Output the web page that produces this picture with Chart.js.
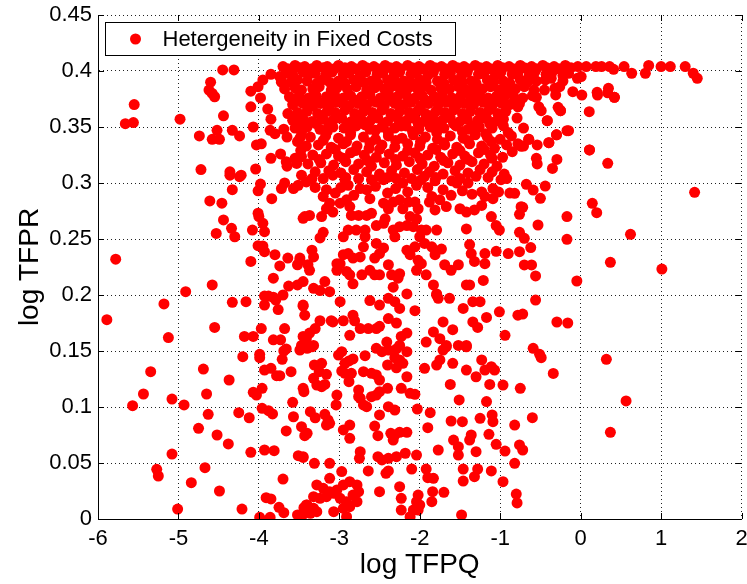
<!DOCTYPE html>
<html>
<head>
<meta charset="utf-8">
<script src="https://cdn.jsdelivr.net/npm/chart.js@4/dist/chart.umd.min.js"></script>
<style>
  html, body { margin: 0; padding: 0; background: #fff; }
  #wrap { width: 747px; height: 584px; }
</style>
</head>
<body>
<div id="wrap"><canvas id="c" width="747" height="584"></canvas></div>
<script>
// --- data: [log TFPQ, log TFPR] ---
const seriesLabel = "Hetergeneity in Fixed Costs";
const xTickLabels = ["-6", "-5", "-4", "-3", "-2", "-1", "0", "1", "2"];
const yTickLabels = ["0", "0.05", "0.1", "0.15", "0.2", "0.25", "0.3", "0.35", "0.4", "0.45"];

// dense cap near 0.4
const topBand = [
  [-3.70,.404],[-3.64,.402],[-3.55,.405],[-3.49,.403],[-3.43,.404],[-3.34,.402],[-3.28,.405],[-3.20,.403],[-3.15,.404],[-3.06,.402],
  [-3.01,.405],[-2.93,.403],[-2.85,.404],[-2.80,.402],[-2.71,.405],[-2.66,.403],[-2.57,.404],[-2.52,.402],[-2.43,.405],[-2.37,.403],
  [-2.29,.404],[-2.24,.402],[-2.15,.405],[-2.09,.403],[-2.01,.404],[-1.96,.402],[-1.87,.405],[-1.81,.403],[-1.73,.404],[-1.68,.402],
  [-1.59,.405],[-1.53,.403],[-1.45,.404],[-1.40,.402],[-1.31,.405],[-1.25,.403],[-1.17,.404],[-1.12,.402],[-1.03,.405],[-0.97,.403],
  [-0.89,.404],[-0.84,.402],[-0.75,.405],[-0.70,.403],[-0.61,.404],[-0.55,.402],[-0.47,.405],[-0.42,.403],[-0.33,.404],[-0.27,.402],
  [-0.19,.405],[-0.12,.403],[-0.035,.404],[0.07,.404],[0.19,.404],[0.26,.404],[0.36,.404],[0.54,.404],[0.846,.405],[1.00,.404],
  [1.115,.404],[1.30,.404],
  [-3.66,.398],[-3.58,.397],[-3.45,.399],[-3.38,.397],[-3.30,.398],[-3.17,.396],[-3.09,.399],[-2.95,.397],[-2.88,.398],[-2.74,.396],
  [-2.67,.399],[-2.53,.397],[-2.46,.398],[-2.32,.396],[-2.25,.399],[-2.11,.397],[-2.04,.398],[-1.90,.396],[-1.83,.399],[-1.69,.397],
  [-1.62,.398],[-1.48,.396],[-1.41,.399],[-1.27,.397],[-1.20,.398],[-1.06,.396],[-0.99,.399],[-0.85,.397],[-0.78,.398],[-0.64,.396],
  [-0.57,.399],[-0.43,.397],[-0.36,.398],[-0.22,.396],[-0.15,.398],[0.41,.4015],[0.635,.398],[0.805,.398],[1.40,.398],[1.45,.3935],
  [-0.04,.3935],[0.007,.395],
  [-3.72,.391],[-3.60,.390],[-3.52,.392],[-3.40,.391],[-3.28,.389],[-3.21,.392],[-3.12,.390],[-3.01,.391],[-2.93,.389],[-2.82,.392],
  [-2.70,.390],[-2.60,.391],[-2.52,.389],[-2.40,.392],[-2.30,.390],[-2.20,.391],[-2.10,.389],[-2.00,.392],[-1.92,.390],[-1.78,.391],
  [-1.70,.389],[-1.58,.392],[-1.47,.390],[-1.36,.391],[-1.30,.389],[-1.16,.392],[-1.08,.390],[-0.96,.391],[-0.88,.389],[-0.75,.392],
  [-0.66,.390],[-0.55,.391],[-0.44,.392],[-0.365,.3935],[-0.22,.391],
  [-3.68,.384],[-3.55,.385],[-3.47,.383],[-3.33,.384],[-3.25,.386],[-3.10,.383],[-3.03,.385],[-2.90,.384],[-2.79,.386],[-2.66,.383],
  [-2.56,.385],[-2.44,.384],[-2.35,.386],[-2.24,.383],[-2.14,.385],[-2.03,.384],[-1.95,.386],[-1.86,.383],[-1.74,.385],[-1.63,.384],
  [-1.52,.386],[-1.42,.383],[-1.33,.385],[-1.22,.384],[-1.12,.386],[-1.01,.383],[-0.92,.385],[-0.81,.384],[-0.70,.386],[-0.58,.383],
  [-0.45,.383],[-0.32,.3845],[-0.26,.386],[0.346,.3845],[0.337,.3805],[-0.097,.3815],[0.015,.3785],[0.205,.381],[0.21,.3785],[0.42,.3765],
  [-3.62,.377],[-3.50,.378],[-3.38,.376],[-3.29,.378],[-3.16,.377],[-3.06,.379],[-2.95,.376],[-2.86,.378],[-2.72,.377],[-2.62,.379],
  [-2.49,.376],[-2.38,.378],[-2.28,.377],[-2.17,.379],[-2.06,.376],[-1.97,.378],[-1.82,.377],[-1.72,.379],[-1.60,.376],[-1.49,.378],
  [-1.37,.377],[-1.26,.379],[-1.15,.376],[-1.04,.378],[-0.95,.377],[-0.84,.379],[-0.72,.376],[-0.60,.378],[-0.55,.3765],[-0.31,.3786],
  [-3.52,.373],[-3.28,.374],[-3.05,.372],[-2.81,.374],[-2.58,.373],[-2.37,.374],[-2.14,.372],[-1.93,.374],[-1.71,.373],[-1.49,.372],
  [-1.27,.374],[-1.05,.373],[-0.82,.374],
  [-3.58,.370],[-3.45,.371],[-3.33,.369],[-3.23,.371],[-3.12,.370],[-2.99,.372],[-2.88,.369],[-2.77,.371],[-2.66,.370],[-2.53,.372],
  [-2.44,.369],[-2.31,.371],[-2.20,.370],[-2.11,.372],[-1.99,.369],[-1.89,.371],[-1.77,.370],[-1.66,.372],[-1.55,.369],[-1.44,.371],
  [-1.33,.370],[-1.21,.372],[-1.10,.369],[-0.98,.371],[-0.88,.370],[-0.76,.371],[-0.78,.368],[-0.52,.368],[-0.49,.3646],[-0.28,.3676],
  [-0.25,.3646],
  [-3.52,.363],[-3.40,.364],[-3.27,.362],[-3.15,.364],[-3.05,.363],[-2.93,.365],[-2.81,.362],[-2.70,.364],[-2.59,.363],[-2.47,.365],
  [-2.36,.362],[-2.25,.364],[-2.13,.363],[-2.02,.365],[-1.93,.362],[-1.80,.364],[-1.69,.363],[-1.58,.365],[-1.47,.362],[-1.37,.364],
  [-1.25,.363],[-1.14,.365],[-1.03,.362],[-0.93,.364],[0.107,.3637],
  [-3.50,.359],[-3.22,.360],[-3.00,.358],[-2.76,.360],[-2.55,.359],[-2.31,.360],[-2.08,.358],[-1.87,.360],[-1.64,.359],[-1.43,.360],
  [-1.20,.358],[-0.99,.360],
  [-3.58,.356],[-3.45,.357],[-3.34,.355],[-3.20,.357],[-3.08,.356],[-2.97,.358],[-2.85,.355],[-2.73,.357],[-2.61,.356],[-2.52,.358],
  [-2.40,.355],[-2.27,.357],[-2.16,.356],[-2.06,.358],[-1.95,.355],[-1.83,.357],[-1.72,.356],[-1.62,.358],[-1.50,.355],[-1.41,.357],
  [-1.28,.356],[-1.17,.358],[-1.06,.355],[-0.96,.357],[-0.79,.358],[-0.415,.3556],
  [-3.50,.352],[-3.29,.353],[-3.13,.351],[-2.90,.353],[-2.68,.352],[-2.45,.353],[-2.23,.351],[-2.02,.353],[-1.78,.352],[-1.58,.353],
  [-1.34,.351],[-1.13,.353]
];

// between 0.28 and 0.35, plus the sparse upper left
const upperCloud = [
  [-3.55,.349],[-3.40,.350],[-3.24,.348],[-3.08,.350],[-2.94,.349],[-2.79,.351],[-2.62,.348],[-2.47,.350],[-2.31,.349],[-2.17,.351],
  [-2.01,.348],[-1.87,.350],[-1.70,.349],[-1.55,.351],[-1.40,.348],[-1.26,.350],[-1.10,.349],[-0.96,.351],[-0.71,.349],[-0.15,.3467],
  [-3.47,.345],[-3.15,.346],[-2.86,.345],[-2.55,.347],[-2.39,.345],[-2.09,.346],[-1.79,.345],[-1.47,.346],[-1.18,.344],[-0.90,.345],
  [-3.36,.341],[-3.17,.342],[-3.01,.340],[-2.86,.343],[-2.70,.341],[-2.55,.339],[-2.39,.342],[-2.22,.340],[-2.08,.343],[-1.93,.341],
  [-1.78,.339],[-1.62,.342],[-1.46,.340],[-1.31,.343],[-1.16,.341],[-1.00,.339],[-0.86,.342],[-0.645,.339],[-0.30,.343],
  [-3.52,.337],[-3.20,.338],[-2.91,.337],[-2.62,.336],[-2.30,.338],[-1.99,.337],[-1.70,.336],[-1.40,.338],[-1.11,.337],
  [-3.41,.333],[-3.26,.334],[-3.10,.332],[-2.95,.335],[-2.78,.333],[-2.63,.331],[-2.47,.334],[-2.31,.332],[-2.15,.335],[-2.00,.333],
  [-1.84,.331],[-1.69,.334],[-1.54,.332],[-1.38,.335],[-1.23,.333],[-1.07,.331],[-0.92,.334],[-0.74,.333],[-0.78,.335],[-0.54,.334],
  [-0.395,.336],
  [-3.48,.329],[-3.05,.330],[-2.80,.329],[-2.50,.330],[-2.15,.329],[-1.80,.330],[-1.50,.329],[-1.20,.330],[-0.85,.328],
  [-3.33,.325],[-3.16,.326],[-3.01,.324],[-2.86,.327],[-2.69,.325],[-2.54,.323],[-2.38,.326],[-2.21,.324],[-2.06,.327],[-1.90,.325],
  [-1.74,.323],[-1.59,.326],[-1.44,.324],[-1.27,.327],[-1.12,.325],[-0.97,.323],[-0.295,.321],[0.11,.3295],
  [-3.25,.321],[-2.95,.322],[-2.65,.320],[-2.30,.321],[-2.00,.322],[-1.70,.320],[-1.40,.321],[-1.10,.322],
  [-3.39,.317],[-3.23,.318],[-3.07,.316],[-2.92,.319],[-2.76,.317],[-2.60,.315],[-2.44,.318],[-2.29,.316],[-2.13,.319],[-1.97,.317],
  [-1.82,.315],[-1.65,.318],[-1.50,.316],[-1.35,.319],[-1.20,.317],[-1.04,.315],[-0.55,.322],[-0.54,.317],[-0.35,.313],[0.337,.3176],
  [-3.30,.310],[-3.13,.311],[-2.98,.309],[-2.82,.312],[-2.66,.310],[-2.50,.308],[-2.35,.311],[-2.19,.309],[-2.03,.312],[-1.88,.310],
  [-1.71,.308],[-1.56,.311],[-1.40,.309],[-1.25,.312],[-1.10,.310],[-0.95,.308],
  [-3.20,.304],[-2.92,.305],[-2.60,.303],[-2.40,.305],[-2.10,.304],[-1.80,.305],[-1.50,.304],[-1.15,.305],
  [-3.30,.296],[-3.05,.291],[-2.82,.289],[-2.55,.297],[-2.40,.291],[-2.15,.292],[-1.90,.296],[-1.85,.288],[-1.47,.293],[-1.35,.290],
  [-1.02,.292],[-2.98,.296],[-2.62,.286],[-2.30,.295],[-1.60,.302],
  [-4.45,.401],[-4.31,.401],[-4.60,.390],[-4.62,.383],[-4.58,.380],[-4.55,.377],[-5.55,.370],[-5.66,.353],[-5.56,.354],[-4.98,.357],
  [-4.44,.360],[-4.74,.342],[-4.58,.339],[-4.49,.339],[-4.52,.347],[-4.33,.347],[-4.24,.342],[-4.72,.312],[-4.36,.310],[-4.22,.307],
  [-4.04,.3125],[-4.10,.382],[-4.01,.386],[-3.95,.392],[-3.85,.397],[-3.74,.395],[-3.72,.390],[-3.98,.376],[-4.10,.368],[-3.89,.366],
  [-3.85,.357],[-4.07,.350],[-3.86,.347],[-3.80,.344],[-3.69,.348],[-3.65,.341],[-4.03,.334],[-3.97,.335],[-3.85,.322],[-3.73,.326],
  [-3.66,.319],[-3.65,.315],[-3.55,.322],[-3.47,.3235],[-3.53,.3175],[-3.47,.307],[-3.49,.340],[-3.64,.362],
  [-0.30,.343],[-0.395,.336],[-0.74,.333],[-0.71,.333],[-0.645,.339],[-0.415,.3556],[-0.17,.3467],[-0.25,.3646],[0.42,.3765],[0.11,.3295]
];

// between 0.15 and 0.30
const middleCloud = [
  [-3.41,.301],[-3.34,.304],[-3.16,.294],[-3.20,.288],[-3.08,.307],[-2.93,.303],[-2.89,.298],[-2.76,.304],[-2.74,.295],[-2.66,.294],
  [-2.50,.306],[-2.45,.303],[-2.35,.306],[-2.29,.304],[-2.21,.300],[-2.04,.298],[-1.98,.303],[-1.94,.306],[-1.81,.302],[-1.71,.294],
  [-1.61,.289],[-1.54,.300],[-1.40,.300],[-1.30,.306],[-1.23,.292],[-1.19,.288],[-1.09,.295],[-0.99,.303],[-0.92,.304],[-0.88,.291],
  [-3.12,.282],[-3.16,.277],[-3.08,.274],[-3.22,.270],[-3.43,.270],[-3.37,.271],[-2.99,.282],[-2.91,.285],[-2.87,.279],[-2.85,.271],
  [-2.76,.271],[-2.66,.271],[-2.60,.273],[-2.45,.282],[-2.39,.277],[-2.43,.268],[-2.33,.283],[-2.25,.285],[-2.21,.277],[-2.14,.283],
  [-2.06,.283],[-2.02,.277],[-2.12,.270],[-2.04,.268],[-1.88,.283],[-1.75,.285],[-1.81,.276],[-1.67,.279],[-1.50,.277],[-1.42,.274],
  [-1.32,.276],[-1.23,.280],[-1.09,.286],[-1.11,.270],
  [-3.20,.256],[-3.24,.251],[-2.95,.252],[-2.89,.258],[-2.79,.258],[-2.68,.258],[-2.68,.252],[-2.54,.262],[-2.45,.264],[-2.33,.258],
  [-2.31,.252],[-2.25,.261],[-2.16,.262],[-2.08,.261],[-1.98,.258],[-1.92,.258],[-1.79,.258],[-2.00,.252],[-1.42,.259],[-1.05,.262],
  [-1.01,.258],[-0.90,.237],
  [-3.34,.240],[-3.32,.234],[-3.39,.227],[-3.49,.231],[-2.95,.236],[-2.89,.237],[-2.83,.233],[-2.74,.234],[-2.70,.243],[-2.54,.246],
  [-2.56,.233],[-2.45,.242],[-2.50,.237],[-2.16,.240],[-2.12,.236],[-2.06,.243],[-1.94,.246],[-1.85,.243],[-1.81,.236],[-1.73,.241],
  [-2.02,.231],[-1.98,.228],[-1.38,.245],[-1.36,.237],[-1.32,.230],[-1.19,.237],[-1.19,.228],[-1.05,.239],[-3.03,.228],[-2.99,.228],
  [-1.52,.227],[-1.69,.227],
  [-3.37,.222],[-3.45,.212],[-3.32,.206],[-3.18,.212],[-2.91,.221],[-2.87,.218],[-2.83,.210],[-2.72,.218],[-2.62,.222],[-2.56,.218],
  [-2.50,.218],[-2.39,.227],[-2.35,.218],[-2.25,.219],[-2.27,.215],[-2.33,.207],[-2.16,.201],[-2.04,.222],[-1.92,.218],[-1.83,.209],
  [-1.79,.201],[-1.61,.222],[-1.42,.209],[-1.38,.209],[-1.21,.213],[-3.12,.203],[-3.24,.204],[-3.03,.222],
  [-3.45,.191],[-3.24,.177],[-3.10,.177],[-2.99,.194],[-2.83,.182],[-2.81,.177],[-2.62,.195],[-2.50,.191],[-2.39,.197],[-2.31,.194],
  [-2.25,.188],[-2.06,.186],[-1.79,.200],[-1.77,.197],[-1.63,.197],[-1.46,.188],[-1.34,.194],[-1.25,.194],[-1.01,.185],[-1.17,.180],
  [-1.34,.176],[-1.28,.171],
  [-3.45,.163],[-3.37,.166],[-3.30,.170],[-3.32,.155],[-3.08,.176],[-2.95,.177],[-2.87,.164],[-2.74,.170],[-2.64,.170],[-2.54,.170],
  [-2.50,.172],[-2.39,.179],[-2.29,.175],[-2.23,.163],[-2.16,.166],[-2.41,.158],[-2.25,.155],[-1.92,.158],[-1.83,.167],[-1.75,.161],
  [-1.71,.176],[-1.59,.169],[-1.67,.155],[-1.52,.155],[-1.42,.155],[-0.94,.164],[-0.78,.182],
  [-5.89,.178],[-5.78,.232],[-5.18,.192],[-5.125,.162],[-4.91,.203],[-4.61,.284],[-4.46,.282],[-4.33,.294],[-4.44,.267],[-4.53,.255],
  [-4.34,.2595],[-4.30,.252],[-4.58,.209],[-4.33,.1935],[-4.16,.194],[-4.55,.171],[-4.18,.163],[-4.07,.163],[-4.10,.230],[-4.01,.293],
  [-3.98,.299],[-4.01,.273],[-4.00,.270],[-3.95,.264],[-3.93,.2565],[-4.08,.258],[-3.84,.286],[-4.01,.244],[-3.95,.2437],[-3.93,.2387],
  [-3.80,.236],[-3.74,.226],[-3.82,.215],[-3.64,.233],[-3.63,.208],[-3.52,.209],[-3.49,.233],[-3.52,.227],[-3.93,.199],[-3.88,.199],
  [-3.82,.198],[-3.79,.1955],[-3.70,.200],[-3.93,.191],[-3.76,.187],[-3.68,.170],[-3.97,.170],[-3.82,.160],[-3.73,.160],[-3.72,.295],
  [-3.68,.300],[-3.57,.295],[-3.51,.298],[-3.45,.2685],[-3.45,.190],[-3.43,.182],[-3.41,.161],[-3.47,.155],[-4.36,.307],[-4.24,.3056],
  [-0.675,.2988],[-0.59,.2937],[-0.44,.2973],[-0.50,.2863],[-0.74,.2788],[-0.72,.2783],[-0.76,.272],[-0.82,.2908],[-0.53,.2625],[-0.76,.256],
  [-0.70,.2506],[-0.17,.270],[-0.17,.2497],[0.145,.2819],[0.20,.2735],[0.62,.2542],[1.417,.2917],[-0.76,.2387],[-0.62,.2423],[-0.70,.2268],
  [-0.61,.2268],[-0.56,.217],[-0.047,.2125],[0.37,.2292],[1.01,.2232],[-0.56,.1955],[-0.72,.183],[-0.295,.1759],[-0.16,.175],[-0.59,.1524]
];

// below 0.15
const lowerCloud = [
  [-0.51,.147],[-0.49,.144],[-0.34,.130],[0.32,.1426],[-0.75,.1167],[0.565,.1054],[-0.60,.0905],[-0.82,.0839],[0.37,.0774],[-0.76,.0661],
  [-0.72,.0616],[-0.80,.0223],[-0.79,.0143],[-0.82,.0497],
  [-5.345,.1315],[-5.435,.1116],[-5.57,.1012],[-5.08,.1071],[-4.93,.1018],[-4.69,.1339],[-4.65,.1116],[-4.37,.1241],[-4.63,.0935],[-4.75,.081],
  [-4.52,.075],[-4.38,.067],[-5.08,.058],[-5.27,.0444],[-5.25,.0384],[-4.84,.0324],[-4.49,.025],[-4.67,.0458],[-5.01,.0089],[-4.20,.1449],
  [-4.25,.0949],[-4.12,.0904],[-4.10,.0595],[-4.21,.0089],[-3.99,.147],[-3.99,.144],[-3.93,.133],[-3.85,.1345],[-3.78,.128],[-3.74,.128],
  [-3.60,.1315],[-3.69,.150],[-3.66,.1518],[-3.71,.1426],[-3.49,.1509],[-3.96,.1167],[-4.07,.1131],[-4.03,.1107],[-3.96,.0988],[-3.88,.0967],
  [-3.83,.0938],[-3.45,.1167],[-3.44,.1137],[-3.58,.1042],[-3.57,.0913],[-3.66,.0786],[-3.47,.0824],[-3.43,.0744],[-3.93,.0616],[-3.81,.061],
  [-3.51,.0565],[-3.45,.055],[-3.70,.0357],[-3.91,.019],[-3.85,.0179],[-3.75,.0104],[-3.69,.0056],[-3.99,.0015],[-3.86,.0015],[-3.52,.0036],
  [-3.47,.002],[-3.44,.0101],[-3.41,.0125],
  [-3.40,.1524],[-3.34,.1538],[-2.97,.1494],[-3.01,.1464],[-2.68,.1458],[-2.88,.1411],[-2.83,.1429],[-2.93,.139],
  [-2.54,.1524],[-2.47,.1494],[-2.39,.1509],[-2.29,.1518],[-2.16,.1494],[-2.31,.144],[-2.25,.142],[-2.40,.1375],[-2.29,.135],[-2.21,.139],
  [-2.16,.127],[-3.31,.1375],[-3.22,.139],[-3.25,.1315],[-3.16,.1292],[-3.32,.1256],[-3.28,.1196],[-3.22,.1181],[-3.18,.1202],
  [-2.97,.1321],[-2.93,.1301],[-2.85,.1301],[-2.70,.1315],[-2.60,.1301],[-2.54,.1286],[-2.50,.1241],[-2.88,.1226],
  [-3.03,.1107],[-2.76,.1152],[-2.74,.1078],[-2.70,.1018],[-2.66,.1003],[-2.76,.1092],[-2.60,.1092],[-2.54,.1107],[-2.50,.1137],[-2.40,.1167],
  [-2.23,.1167],[-2.12,.1122],[-2.06,.1113],[-3.04,.1018],
  [-3.36,.0958],[-3.30,.0904],[-3.18,.0935],[-3.14,.0884],[-3.16,.0839],[-3.12,.0854],[-3.40,.0765],
  [-2.95,.0795],[-2.87,.0839],[-2.87,.072],[-2.50,.0929],[-2.56,.083],[-2.52,.0744],[-2.39,.1003],[-2.31,.0973],
  [-2.36,.0765],[-2.31,.075],[-2.25,.0774],[-2.16,.0774],[-2.33,.0705],[-2.03,.0982],[-1.87,.0949],[-1.90,.0815],
  [-1.94,.1345],[-1.79,.1375],[-1.75,.142],[-1.71,.1509],[-1.67,.1538],[-1.59,.139],[-1.42,.1538],[-1.62,.1202],
  [-1.42,.133],[-1.30,.127],[-1.23,.142],[-1.19,.133],[-1.11,.136],[-1.07,.133],[-1.13,.1202],[-0.965,.1196],
  [-1.51,.1063],[-1.17,.1048],[-1.61,.0875],[-1.47,.0869],[-1.25,.0899],[-1.10,.0929],[-1.09,.0869],
  [-1.58,.0705],[-1.52,.0646],[-1.52,.0571],[-1.38,.0705],[-1.36,.075],[-1.30,.0601],[-1.14,.0756],[-1.05,.0667],[-0.94,.0607],
  [-1.77,.0616],[-1.92,.0446],[-1.90,.0369],[-1.83,.0363],
  [-1.46,.0446],[-1.46,.0339],[-1.32,.0378],[-1.28,.0446],[-1.11,.0429],[-0.965,.0333],
  [-1.84,.0244],[-1.70,.0238],[-1.85,.0155],[-2.02,.0214],[-2.04,.0155],[-2.02,.008],[-2.25,.0289],[-2.23,.0185],[-2.23,.008],[-2.12,.002],
  [-2.08,.008],[-2.00,.0125],[-1.48,.0036],[-2.50,.0244],[-2.42,.0408],[-2.39,.0429],[-2.10,.0446],
  [-3.28,.0304],[-3.20,.0274],[-3.12,.0244],[-3.03,.0259],[-2.95,.0304],[-2.87,.0333],[-2.78,.0304],[-3.32,.0199],[-3.24,.0185],[-3.16,.0199],
  [-3.07,.023],[-2.99,.0185],[-2.91,.0155],[-2.83,.0214],[-2.76,.0244],[-3.40,.0125],[-3.32,.0095],[-3.45,.0051],[-3.36,.0051],[-3.28,.0065],
  [-3.07,.0065],[-2.95,.0095],[-2.87,.011],[-2.78,.0155],[-2.91,.002],[-3.12,.0363],[-2.97,.0423],[-2.64,.0429],
  [-3.31,.0497],[-3.12,.0497],[-3.45,.0556],[-2.74,.0601],[-2.75,.0542],
  [-2.52,.0556],[-2.47,.0527],[-2.39,.0542],[-2.29,.0556],[-2.18,.0587],[-2.04,.0571]
];

const points = [...topBand, ...upperCloud, ...middleCloud, ...lowerCloud].map(([q, r]) => ({ x: q, y: r }));

Chart.defaults.font.family = "'Liberation Sans', Arial, sans-serif";
Chart.defaults.color = "#000";

// MATLAB style inward ticks on all four sides
const innerTicks = {
  id: "innerTicks",
  afterDraw(chart) {
    const { ctx, chartArea: a, scales: { x, y } } = chart;
    const len = 6;
    ctx.save();
    ctx.strokeStyle = "#000";
    ctx.lineWidth = 1;
    ctx.beginPath();
    x.ticks.forEach(t => {
      const px = Math.round(x.getPixelForValue(t.value)) + 0.5;
      ctx.moveTo(px, a.bottom); ctx.lineTo(px, a.bottom - len);
      ctx.moveTo(px, a.top); ctx.lineTo(px, a.top + len);
    });
    y.ticks.forEach(t => {
      const py = Math.round(y.getPixelForValue(t.value)) + 0.5;
      ctx.moveTo(a.left, py); ctx.lineTo(a.left + len, py);
      ctx.moveTo(a.right, py); ctx.lineTo(a.right - len, py);
    });
    ctx.stroke();
    ctx.restore();
  }
};

// legend box inside the top-left corner
const legendBox = {
  id: "legendBox",
  afterDraw(chart) {
    const { ctx, chartArea: a } = chart;
    const ds = chart.data.datasets[0];
    const left = Math.round(a.left) + 7.5, top = Math.round(a.top) + 7.5, w = 350, h = 33;
    ctx.save();
    ctx.fillStyle = "#fff";
    ctx.fillRect(left, top, w, h);
    ctx.strokeStyle = "#000";
    ctx.lineWidth = 1;
    ctx.strokeRect(left, top, w, h);
    ctx.fillStyle = ds.backgroundColor;
    ctx.beginPath();
    ctx.arc(left + 30, top + h / 2, 5.5, 0, Math.PI * 2);
    ctx.fill();
    ctx.fillStyle = "#000";
    ctx.font = "22px 'Liberation Sans', Arial, sans-serif";
    ctx.textBaseline = "middle";
    ctx.fillText(ds.label, left + 57, top + h / 2 + 1);
    ctx.restore();
  }
};

new Chart(document.getElementById("c"), {
  type: "scatter",
  data: {
    datasets: [{
      label: seriesLabel,
      data: points,
      backgroundColor: "#ff0000",
      borderColor: "#ff0000",
      borderWidth: 0,
      pointRadius: 5.5,
      pointHoverRadius: 5.5
    }]
  },
  options: {
    responsive: false,
    animation: false,
    devicePixelRatio: 1,
    layout: { padding: { left: 0, right: 5, top: 15, bottom: 0 } },
    plugins: { legend: { display: false }, tooltip: { enabled: false } },
    scales: {
      x: {
        type: "linear", min: -6, max: 2,
        ticks: { stepSize: 1, autoSkip: false, maxRotation: 0, padding: 7, font: { size: 22 },
                 callback: v => xTickLabels[Math.round(v + 6)] },
        grid: { color: "#222", drawTicks: false },
        border: { display: true, color: "#000", width: 1, dash: [1, 3] },
        title: { display: true, text: "log TFPQ", font: { size: 28 }, padding: { top: 0, bottom: 2 } },
        afterFit(s) { s.height = 65; s.paddingLeft = 0; s.paddingRight = 0; }
      },
      y: {
        type: "linear", min: 0, max: 0.45,
        ticks: { stepSize: 0.05, autoSkip: false, padding: 6, font: { size: 22 },
                 callback: v => yTickLabels[Math.round(v / 0.05)] },
        grid: { color: "#222", drawTicks: false },
        border: { display: true, color: "#000", width: 1, dash: [1, 3] },
        title: { display: true, text: "log TFPR", font: { size: 28 }, padding: { top: 13, bottom: 0 } },
        afterFit(s) { s.width = 98; s.paddingTop = 0; s.paddingBottom = 0; }
      }
    }
  },
  plugins: [innerTicks, legendBox]
});
</script>
</body>
</html>
